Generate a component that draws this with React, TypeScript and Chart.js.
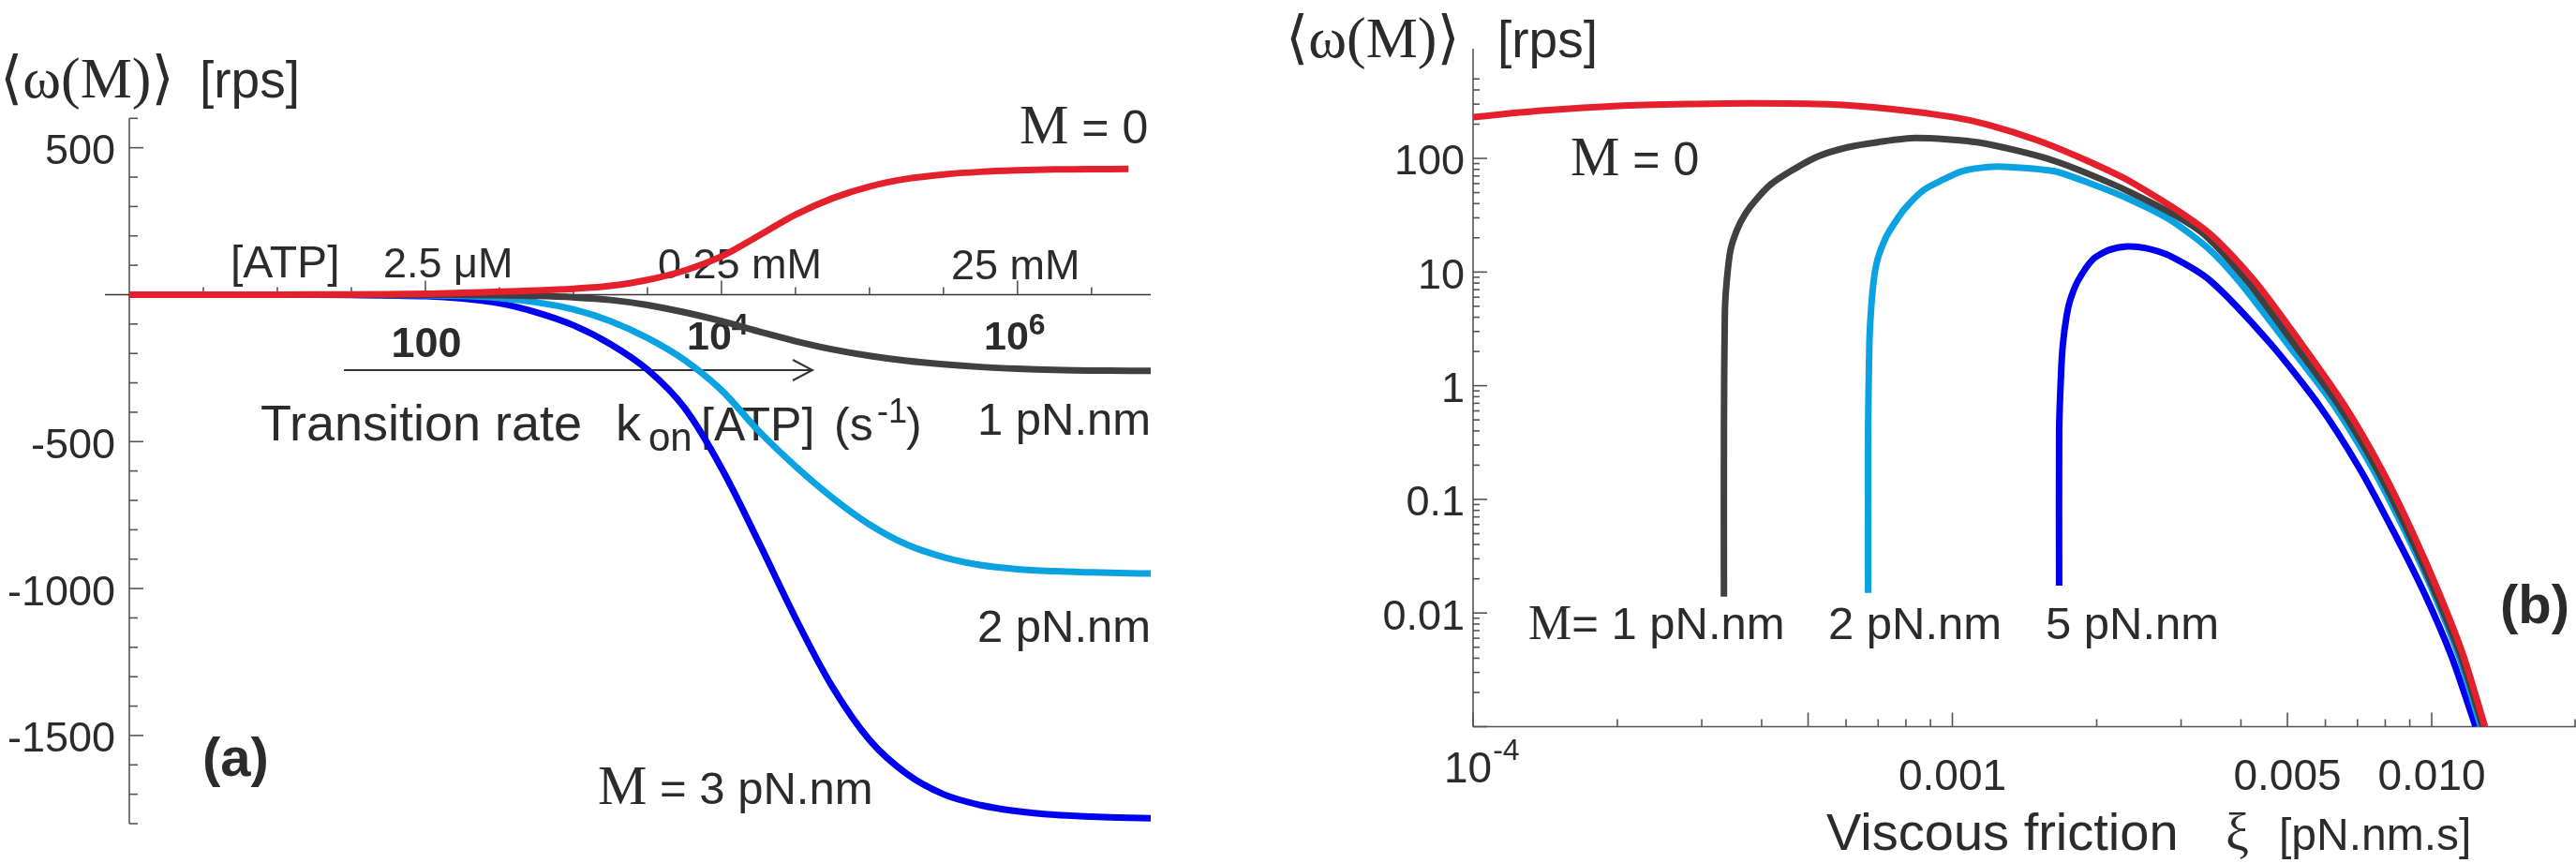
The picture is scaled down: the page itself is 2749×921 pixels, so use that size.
import React, { useEffect, useRef } from 'react';
import { Chart, registerables } from 'chart.js';

Chart.register(...registerables);

const W = 2749;
const H = 921;

// ---------- Panel (a): <omega(M)> vs transition rate k_on[ATP] ----------
const rateExponents = [0, 0.5, 1, 1.5, 2, 2.25, 2.5, 2.75, 3, 3.25, 3.5, 3.75, 4, 4.25, 4.5, 4.75, 5, 5.25, 5.5, 5.75, 6, 6.25, 6.5, 6.75, 6.9];
const omegaA_M0 = [0, 0, 0, 1, 3, 6, 10, 14, 20, 30, 50, 82, 130, 200, 272, 328, 368, 394, 409, 418, 423, 426, 427, 428, null];
const omegaA_M1 = [0, 0, 0, 0, 0, -1, -2, -4, -9, -18, -35, -60, -90, -125, -158, -186, -208, -225, -237, -246, -252, -256, -258, -259, -259];
const omegaA_M2 = [0, 0, 0, 0, -2, -4, -11, -26, -50, -90, -147, -222, -325, -463, -584, -691, -782, -850, -893, -920, -934, -941, -945, -948, -949];
const omegaA_M3 = [0, 0, 0, -1, -5, -13, -29, -60, -104, -168, -255, -385, -590, -840, -1100, -1335, -1515, -1630, -1700, -1737, -1758, -1770, -1776, -1780, -1782];
const yTickLabelsA = [-1500, -1000, -500, 500];
const rateTickExponents = [0.5, 1, 1.5, 2, 2.5, 3, 3.5, 4, 4.5, 5, 5.5, 6, 6.5];
const majorRateTickExponents = [2, 4, 6];

// ---------- Panel (b): <omega(M)> vs viscous friction xi ----------
const frictionB_M0 = [1.0e-4, 1.39e-4, 2.01e-4, 2.9e-4, 3.8e-4, 5.5e-4, 7.57e-4, 1.0e-3, 1.186e-3, 1.5e-3, 1.862e-3, 2.36e-3, 3.4e-3, 4.274e-3, 5.351e-3, 6.582e-3, 7.843e-3, 9.098e-3, 1.036e-2, 1.165e-2, 1.292e-2];
const omegaB_M0 = [231, 263, 290, 301, 305, 299, 270, 231, 198, 145, 100, 62, 22.8, 8.32, 2.33, 0.667, 0.187, 0.0524, 0.015, 0.00419, 0.001];
const frictionB_M1 = [3.337e-4, 3.337e-4, 3.352e-4, 3.382e-4, 3.444e-4, 3.555e-4, 3.701e-4, 3.888e-4, 4.178e-4, 4.594e-4, 5.21e-4, 6.04e-4, 7.0e-4, 8.39e-4, 1.134e-3, 1.633e-3, 2.36e-3, 3.293e-3, 4.122e-3, 5.164e-3, 6.404e-3, 7.666e-3, 8.917e-3, 1.018e-2, 1.15e-2, 1.278e-2];
const omegaB_M1 = [0.0139, 0.4, 4.4, 8.3, 15.6, 23.6, 32.7, 43, 59, 77, 103, 125, 139, 151, 138, 95, 50, 22.8, 8.32, 2.33, 0.667, 0.187, 0.0524, 0.015, 0.00419, 0.001];
const frictionB_M2 = [6.67e-4, 6.67e-4, 6.71e-4, 6.76e-4, 6.85e-4, 6.98e-4, 7.26e-4, 7.53e-4, 7.95e-4, 8.7e-4, 9.56e-4, 1.046e-3, 1.186e-3, 1.315e-3, 1.633e-3, 1.963e-3, 2.36e-3, 2.838e-3, 3.398e-3, 3.959e-3, 5.003e-3, 6.263e-3, 7.529e-3, 8.797e-3, 1.009e-2, 1.139e-2, 1.266e-2];
const omegaB_M2 = [0.015, 0.4, 2.3, 4.4, 8.3, 12.9, 20, 26, 36, 52.5, 65, 77, 84, 84, 77, 59, 43, 29, 16.5, 8.32, 2.33, 0.667, 0.187, 0.0524, 0.015, 0.00419, 0.001];
const frictionB_M5 = [1.67e-3, 1.67e-3, 1.685e-3, 1.7e-3, 1.731e-3, 1.762e-3, 1.826e-3, 1.963e-3, 2.12e-3, 2.318e-3, 2.536e-3, 2.838e-3, 3.459e-3, 4.613e-3, 5.83e-3, 7.072e-3, 8.318e-3, 9.647e-3, 1.099e-2, 1.235e-2];
const omegaB_M5 = [0.0174, 0.4, 1.25, 2.3, 4.1, 5.7, 8.3, 12.9, 15.6, 16.8, 16.2, 13.9, 8.32, 2.33, 0.667, 0.187, 0.0524, 0.015, 0.00419, 0.001];
const yTickValuesB = [0.01, 0.1, 1, 10, 100];
const yTickLabelsB = ['0.01', '0.1', '1', '10', '100'];
const xLabelValuesB = [0.001, 0.005, 0.01];
const xLabelTextsB = ['0.001', '0.005', '0.010'];

// ---------- styles ----------
const RED = '#e3202b';
const DARK = '#404040';
const LIGHTBLUE = '#0aa2e0';
const BLUE = '#0000f0';
const TEXT = '#2b2b2b';
const AXIS = '#555555';
const SANS = '"Liberation Sans", Arial, Helvetica, sans-serif';
const SERIF = '"Liberation Serif", "Times New Roman", "DejaVu Serif", "DejaVu Sans", serif';
const sans = (px: number, bold = false) => `${bold ? 'bold ' : ''}${px}px ${SANS}`;
const serif = (px: number) => `${px}px ${SERIF}`;

function txt(ctx: CanvasRenderingContext2D, s: string, x: number, y: number, font: string, align: CanvasTextAlign = 'left'): number {
  ctx.save();
  ctx.font = font;
  ctx.fillStyle = TEXT;
  ctx.textAlign = align;
  ctx.textBaseline = 'alphabetic';
  ctx.fillText(s, x, y);
  const w = ctx.measureText(s).width;
  ctx.restore();
  return w;
}

function seg(ctx: CanvasRenderingContext2D, x1: number, y1: number, x2: number, y2: number) {
  ctx.beginPath();
  ctx.moveTo(x1, y1);
  ctx.lineTo(x2, y2);
  ctx.stroke();
}

const panelAPlugin = {
  id: 'panelADecor',
  beforeDatasetsDraw(chart: any) {
    const { ctx, chartArea: ca } = chart;
    const xs = chart.scales.x;
    const ys = chart.scales.y;
    ctx.save();
    ctx.lineCap = 'butt';
    ctx.strokeStyle = AXIS;
    ctx.lineWidth = 1.6;
    seg(ctx, ca.left, ca.top, ca.left, ca.bottom);
    for (let v = -1800; v <= 600; v += 100) {
      const y = ys.getPixelForValue(v);
      seg(ctx, ca.left, y, ca.left + (v % 500 === 0 ? 15 : 9), y);
    }
    const y0 = ys.getPixelForValue(0);
    ctx.strokeStyle = '#333333';
    seg(ctx, ca.left - 26, y0, ca.right, y0);
    ctx.strokeStyle = AXIS;
    for (const e of rateTickExponents) {
      const x = xs.getPixelForValue(Math.pow(10, e));
      seg(ctx, x, y0, x, y0 - (majorRateTickExponents.includes(e) ? 15 : 8));
    }
    // arrow
    ctx.strokeStyle = '#333333';
    ctx.lineWidth = 2;
    seg(ctx, 367, 395, 866, 395);
    ctx.beginPath();
    ctx.moveTo(846, 384);
    ctx.lineTo(867, 395);
    ctx.lineTo(846, 406);
    ctx.stroke();

    // titles & annotations
    txt(ctx, '⟨ω(M)⟩', 0, 104, serif(62));
    txt(ctx, '[rps]', 213, 104, sans(55));
    txt(ctx, '[ATP]', 246, 296, sans(48));
    txt(ctx, '2.5 μM', 409, 296, sans(45));
    txt(ctx, '0.25 mM', 702, 297, sans(45));
    txt(ctx, '25 mM', 1015, 298, sans(45));
    let w = txt(ctx, 'M', 1088, 153, serif(59));
    txt(ctx, ' = 0', 1088 + w, 153, sans(50));
    txt(ctx, '100', 455, 381, sans(45, true), 'center');
    w = txt(ctx, '10', 733, 373, sans(43, true));
    txt(ctx, '4', 733 + w, 357, sans(32, true));
    w = txt(ctx, '10', 1050, 373, sans(43, true));
    txt(ctx, '6', 1050 + w, 357, sans(32, true));
    txt(ctx, 'Transition rate', 278, 470, sans(54));
    txt(ctx, 'k', 657, 470, sans(54));
    txt(ctx, 'on', 692, 481, sans(42));
    txt(ctx, '[ATP]', 748, 470, sans(50));
    txt(ctx, '(s', 890, 470, sans(50));
    txt(ctx, '-1', 936, 451, sans(36));
    txt(ctx, ')', 967, 470, sans(50));
    txt(ctx, '1 pN.nm', 1043, 464, sans(49));
    txt(ctx, '2 pN.nm', 1043, 685, sans(49));
    w = txt(ctx, 'M', 638, 858, serif(59));
    txt(ctx, ' = 3 pN.nm', 638 + w, 858, sans(49));
    txt(ctx, '(a)', 216, 828, sans(58, true));
    ctx.restore();
  },
};

const panelBPlugin = {
  id: 'panelBDecor',
  beforeDatasetsDraw(chart: any) {
    const { ctx, chartArea: ca } = chart;
    const xs = chart.scales.x;
    const ys = chart.scales.y;
    ctx.save();
    ctx.lineCap = 'butt';
    ctx.strokeStyle = AXIS;
    ctx.lineWidth = 1.6;
    seg(ctx, ca.left, ca.top, ca.left, ca.bottom);
    seg(ctx, ca.left, ca.bottom, ca.right, ca.bottom);
    for (let d = -3; d <= 2; d++) {
      for (let k = 1; k <= 9; k++) {
        const v = k * Math.pow(10, d);
        if (v > 500.5) break;
        const y = ys.getPixelForValue(v);
        seg(ctx, ca.left, y, ca.left + (k === 1 ? 15 : 7), y);
      }
    }
    for (let d = -4; d <= -2; d++) {
      for (let k = 1; k <= 9; k++) {
        const v = k * Math.pow(10, d);
        if (v > 0.02001) break;
        const x = Math.min(xs.getPixelForValue(v), ca.right - 1);
        const major = (k === 1 || k === 5);
        seg(ctx, x, ca.bottom, x, ca.bottom - (major ? 15 : 8));
      }
    }
    // x labels
    const w10 = txt(ctx, '10', 1541, 835, sans(46));
    txt(ctx, '-4', 1541 + w10 + 1, 811, sans(32));
    xLabelValuesB.forEach((v, i) => {
      txt(ctx, xLabelTextsB[i], xs.getPixelForValue(v), 843, sans(46), 'center');
    });
    txt(ctx, 'Viscous friction', 1949, 907, sans(56));
    txt(ctx, 'ξ', 2375, 907, serif(56));
    txt(ctx, '[pN.nm.s]', 2432, 907, sans(48));

    txt(ctx, '⟨ω(M)⟩', 1372, 61, serif(62));
    txt(ctx, '[rps]', 1598, 61, sans(55));
    let w = txt(ctx, 'M', 1676, 187, serif(59));
    txt(ctx, ' = 0', 1676 + w, 187, sans(50));
    w = txt(ctx, 'M', 1631, 682, serif(52));
    txt(ctx, '= 1 pN.nm', 1631 + w, 682, sans(49));
    txt(ctx, '2 pN.nm', 1951, 682, sans(49));
    txt(ctx, '5 pN.nm', 2183, 682, sans(49));
    txt(ctx, '(b)', 2668, 665, sans(58, true));
    ctx.restore();
  },
};

function lineDataset(label: string, data: { x: number; y: number | null }[], color: string, tension: number) {
  return {
    label,
    data,
    borderColor: color,
    backgroundColor: color,
    borderWidth: 7,
    pointRadius: 0,
    pointHoverRadius: 0,
    tension,
    fill: false,
    spanGaps: false,
    borderCapStyle: 'butt' as const,
  };
}

export default function App() {
  const refA = useRef<HTMLCanvasElement | null>(null);
  const refB = useRef<HTMLCanvasElement | null>(null);

  useEffect(() => {
    document.body.style.margin = '0';
    document.body.style.background = '#ffffff';
    const toA = (arr: (number | null)[]) => rateExponents.map((e, i) => ({ x: Math.pow(10, e), y: arr[i] }));
    const toB = (xsArr: number[], ysArr: number[]) => xsArr.map((x, i) => ({ x, y: ysArr[i] }));

    const chartA = new Chart(refA.current as HTMLCanvasElement, {
      type: 'line',
      data: {
        datasets: [
          lineDataset('M = 0', toA(omegaA_M0), RED, 0.35),
          lineDataset('1 pN.nm', toA(omegaA_M1), DARK, 0.35),
          lineDataset('2 pN.nm', toA(omegaA_M2), LIGHTBLUE, 0.35),
          lineDataset('M = 3 pN.nm', toA(omegaA_M3), BLUE, 0.35),
        ] as any,
      },
      options: {
        responsive: false,
        animation: false,
        events: [],
        layout: { padding: { left: 8, top: 126.3, right: W - 1228, bottom: H - 887.1 } },
        plugins: { legend: { display: false }, tooltip: { enabled: false } },
        scales: {
          x: { type: 'logarithmic', min: 1, max: Math.pow(10, 6.9), display: false },
          y: {
            type: 'linear',
            min: -1800,
            max: 600,
            afterBuildTicks: (s: any) => { s.ticks = yTickLabelsA.map((v) => ({ value: v })); },
            afterFit: (s: any) => { s.width = 130; },
            grid: { display: false, drawTicks: false },
            border: { display: false },
            ticks: {
              autoSkip: false,
              padding: 15,
              labelOffset: 5,
              color: TEXT,
              font: { family: SANS, size: 45 },
              callback: (v: any) => String(v),
            },
          },
        },
      } as any,
      plugins: [panelAPlugin],
    });

    const chartB = new Chart(refB.current as HTMLCanvasElement, {
      type: 'line',
      data: {
        datasets: [
          lineDataset('M = 0', toB(frictionB_M0, omegaB_M0), RED, 0.25),
          lineDataset('M = 1 pN.nm', toB(frictionB_M1, omegaB_M1), DARK, 0.25),
          lineDataset('2 pN.nm', toB(frictionB_M2, omegaB_M2), LIGHTBLUE, 0.25),
          lineDataset('5 pN.nm', toB(frictionB_M5, omegaB_M5), BLUE, 0.25),
        ] as any,
      },
      options: {
        responsive: false,
        animation: false,
        events: [],
        layout: { padding: { left: 1372, top: 52, right: 0, bottom: H - 775.5 } },
        plugins: { legend: { display: false }, tooltip: { enabled: false } },
        scales: {
          x: { type: 'logarithmic', min: 1e-4, max: 0.02, display: false },
          y: {
            type: 'logarithmic',
            min: 0.001,
            max: 922,
            afterBuildTicks: (s: any) => { s.ticks = yTickValuesB.map((v) => ({ value: v })); },
            afterFit: (s: any) => { s.width = 200; },
            grid: { display: false, drawTicks: false },
            border: { display: false },
            ticks: {
              autoSkip: false,
              padding: 9,
              labelOffset: 5,
              color: TEXT,
              font: { family: SANS, size: 45 },
              callback: (v: any) => {
                const i = yTickValuesB.findIndex((t) => Math.abs(t - v) / t < 1e-6);
                return i >= 0 ? yTickLabelsB[i] : '';
              },
            },
          },
        },
      } as any,
      plugins: [panelBPlugin],
    });

    return () => {
      chartA.destroy();
      chartB.destroy();
    };
  }, []);

  const canvasStyle: React.CSSProperties = { position: 'absolute', left: 0, top: 0 };
  return (
    <div style={{ position: 'relative', width: W, height: H, background: '#ffffff', overflow: 'hidden' }}>
      <canvas ref={refA} width={W} height={H} style={canvasStyle} />
      <canvas ref={refB} width={W} height={H} style={canvasStyle} />
    </div>
  );
}
